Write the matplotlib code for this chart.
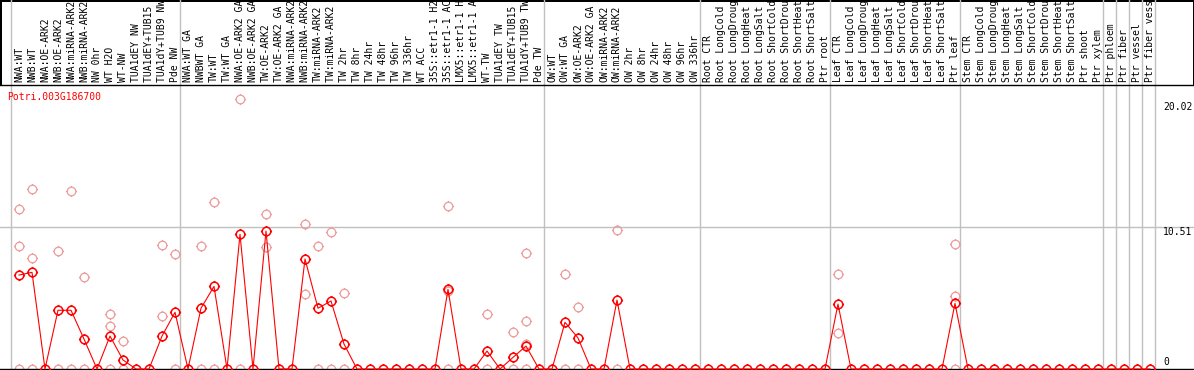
import numpy as np
import matplotlib
matplotlib.use('Agg')
import matplotlib.pyplot as plt
from matplotlib.path import Path

# sample names along the top
labels = [
    'NWA:WT', 'NWB:WT', 'NWA:OE-ARK2', 'NWB:OE-ARK2', 'NWA:miRNA-ARK2', 'NWB:miRNA-ARK2',
    'NW 0hr', 'WT H2O', 'WT-NW', 'TUA1dEY NW', 'TUA1dEY+TUB15 NW', 'TUA1dY+TUB9 NW', 'Pde NW',
    'NWA:WT GA', 'NWBWT GA', 'TW:WT', 'TW:WT GA', 'NWA:OE-ARK2 GA', 'NWB:OE-ARK2 GA',
    'TW:OE-ARK2', 'TW:OE-ARK2 GA', 'NWA:miRNA-ARK2 GA', 'NWB:miRNA-ARK2 GA', 'TW:miRNA-ARK2',
    'TW:miRNA-ARK2 GA', 'TW 2hr', 'TW 8hr', 'TW 24hr', 'TW 48hr', 'TW 96hr', 'TW 336hr', 'WT ACC',
    '35S::etr1-1 H2O', '35S::etr1-1 ACC', 'LMX5::etr1-1 H2O', 'LMX5::etr1-1 ACC', 'WT-TW',
    'TUA1dEY TW', 'TUA1dEY+TUB15 TW', 'TUA1dY+TUB9 TW', 'Pde TW',
    'OW:WT', 'OW:WT GA', 'OW:OE-ARK2', 'OW:OE-ARK2 GA', 'OW:miRNA-ARK2', 'OW:miRNA-ARK2',
    'OW 2hr', 'OW 8hr', 'OW 24hr', 'OW 48hr', 'OW 96hr', 'OW 336hr',
    'Root CTR', 'Root LongCold', 'Root LongDrought', 'Root LongHeat', 'Root LongSalt',
    'Root ShortCold', 'Root ShortDrought', 'Root ShortHeat', 'Root ShortSalt', 'Ptr root',
    'Leaf CTR', 'Leaf LongCold', 'Leaf LongDrought', 'Leaf LongHeat', 'Leaf LongSalt',
    'Leaf ShortCold', 'Leaf ShortDrought', 'Leaf ShortHeat', 'Leaf ShortSalt', 'Ptr leaf',
    'Stem CTR', 'Stem LongCold', 'Stem LongDrought', 'Stem LongHeat', 'Stem LongSalt',
    'Stem ShortCold', 'Stem ShortDrought', 'Stem ShortHeat', 'Stem ShortSalt', 'Ptr shoot',
    'Ptr xylem', 'Ptr phloem', 'Ptr fiber', 'Ptr vessel', 'Ptr fiber vessel',
]

# mean expression per sample (red line)
means = [
    6.96, 7.16, 0, 4.35, 4.35, 2.22, 0, 2.44, 0.67, 0, 0, 2.44, 4.20,
    0, 4.50, 6.12, 0, 9.98, 0, 10.22, 0, 0, 8.15, 4.50, 5.04, 1.85, 0, 0, 0, 0, 0, 0, 0,
    5.90, 0, 0, 1.33, 0, 0.86, 1.70, 0,
    0, 3.46, 2.30, 0, 0, 5.11, 0, 0, 0, 0, 0, 0,
    0, 0, 0, 0, 0, 0, 0, 0, 0, 0,
    4.81, 0, 0, 0, 0, 0, 0, 0, 0, 4.86,
    0, 0, 0, 0, 0, 0, 0, 0, 0, 0, 0,
    0, 0, 0, 0,
]

# individual replicates (pink circles)
rep_cols = [0, 0, 0, 1, 1, 1, 3, 3, 4, 4, 5, 5, 7, 7, 7, 8, 8, 11, 11, 12, 12,
            14, 14, 15, 15, 17, 17, 19, 19, 22, 22, 23, 23, 24, 24, 25, 25,
            33, 33, 33, 36, 36, 38, 38, 39, 39, 39, 39,
            42, 42, 43, 43, 46, 46, 63, 63, 72, 72, 72]
rep_vals = [11.83, 9.09, 0, 13.31, 8.20, 0, 8.72, 0, 13.16, 0, 6.79, 0, 4.05, 3.16, 0, 2.05, 0,
            9.16, 3.90, 8.50, 0, 9.09, 0, 12.35, 0, 20.02, 0, 11.46, 9.01, 10.72, 5.53,
            9.09, 0, 10.12, 0, 5.60, 0,
            12.07, 5.76, 0, 4.05, 0, 2.74, 0, 8.57, 3.53, 1.85, 0,
            7.01, 0, 4.59, 0, 10.27, 0, 7.01, 2.67, 9.24, 5.38, 0]

group_starts = [0, 13, 41, 53, 63, 73, 84, 85, 86, 87, 88]
ytick_vals = [20.02, 10.51, 0]
ytick_labels = ['20.02', '10.51', '0']

W, H = 1194, 370
fig = plt.figure(figsize=(W / 100, H / 100), dpi=100, edgecolor='black', linewidth=2)
ax = fig.add_axes([0, 1 / H, 1, 284 / H])

x = np.arange(len(labels))
ax.set_xlim(-19 / 13, (W - 19) / 13)
ax.set_ylim(0, 284 / 13.5)

# circle marker with short ticks
circ = Path.unit_circle()
tv, tc = [], []
for dx, dy in [(0, 1), (0, -1), (1, 0), (-1, 0)]:
    tv += [(dx * 1.05, dy * 1.05), (dx * 1.3, dy * 1.3)]
    tc += [Path.MOVETO, Path.LINETO]
mk = Path(np.concatenate([circ.vertices, np.array(tv)]), np.concatenate([circ.codes, tc]))

# group separators and grid line
for s in group_starts:
    ax.axvline(s - 0.65, ymin=0, ymax=369 / 284, color='#c0c0c0', lw=1, clip_on=False, zorder=1)
ax.axhline(10.51, color='#c0c0c0', lw=1, zorder=1)

ax.plot(rep_cols, rep_vals, ls='none', marker=mk, ms=8, mfc='none', mec='#ee9a9a',
        mew=0.9, clip_on=False, zorder=2)
ax.plot(x, means, color='red', lw=0.8, marker=mk, ms=8, mfc='none', mec='red',
        mew=1.1, clip_on=False, zorder=3)

for sp in ['left', 'right']:
    ax.spines[sp].set_visible(False)
ax.spines['top'].set_linewidth(1)
ax.spines['bottom'].set_linewidth(1)
ax.set_yticks([])
ax.xaxis.tick_top()
ax.set_xticks(x, labels, rotation=90, fontsize=7, family='DejaVu Sans Mono')
ax.tick_params(axis='x', length=0, pad=2)

ax.text(0.006, 0.958, 'Potri.003G186700', transform=ax.transAxes, color='red',
        fontsize=7, family='DejaVu Sans Mono', va='center')

for v, t, off in zip(ytick_vals, ytick_labels, [-6, -3.6, 5]):
    ax.annotate(t, xy=(88.0, v), xytext=(0, off), textcoords='offset points',
                va='center', ha='left', fontsize=7, family='DejaVu Sans Mono')

fig.savefig('out.png', dpi=100)
